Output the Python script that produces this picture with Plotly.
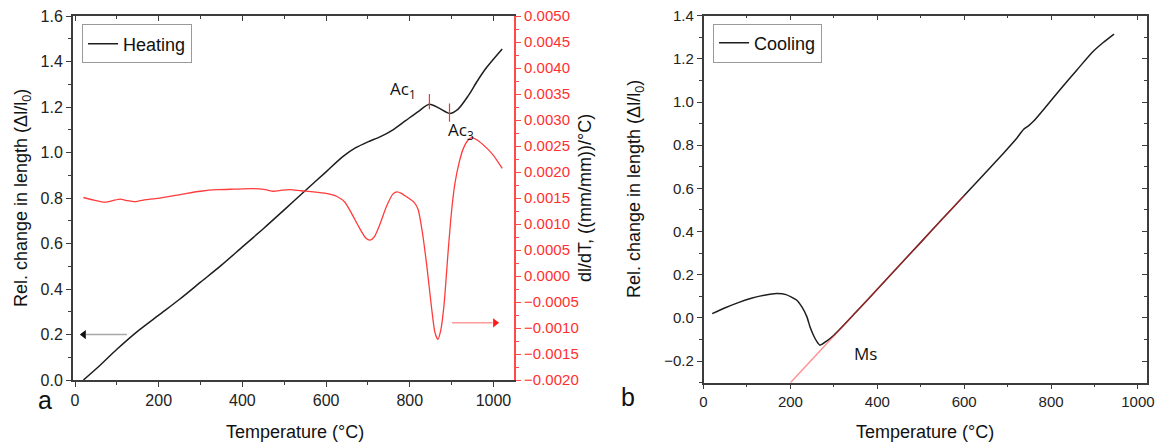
import plotly.graph_objects as go

# ---- data -------------------------------------------------------------
heat_T = [20, 60, 100, 150, 200, 250, 300, 350, 400, 450, 500, 550, 600, 640, 670,
          700, 730, 760, 790, 820, 847, 870, 895, 915, 940, 960, 980, 1000, 1021]
heat_dl = [0.0, 0.065, 0.135, 0.215, 0.285, 0.355, 0.43, 0.505, 0.585, 0.665, 0.748,
           0.832, 0.915, 0.982, 1.02, 1.047, 1.07, 1.10, 1.14, 1.18, 1.212, 1.195,
           1.172, 1.19, 1.25, 1.31, 1.365, 1.41, 1.455]

deriv_T = [20, 45, 72, 90, 108, 125, 143, 170, 203, 240, 267, 300, 339, 380, 426, 455,
           474, 495, 514, 540, 570, 600, 626, 645, 660, 680, 695, 705, 715, 728, 745,
           760, 770, 780, 795, 810, 820, 830, 841, 852, 860, 867, 874, 882, 892, 900,
           908, 918, 928, 940, 948, 960, 984, 1000, 1021]
deriv_val = [0.00151, 0.00146, 0.00142, 0.00145, 0.00148, 0.00145, 0.00143, 0.00147,
             0.00150, 0.00155, 0.00159, 0.00163, 0.00166, 0.00167, 0.00168, 0.00166,
             0.00163, 0.00165, 0.00166, 0.00164, 0.00162, 0.00159, 0.00153, 0.00142,
             0.00122, 0.00092, 0.00073, 0.00069, 0.00075, 0.00098, 0.00135, 0.00158,
             0.00162, 0.00159, 0.00151, 0.00142, 0.00128, 0.00085, 0.00018, -0.0006,
             -0.00108, -0.00122, -0.00105, -0.00055, 0.0005, 0.00125, 0.00178, 0.00218,
             0.00245, 0.00262, 0.00266, 0.00262, 0.00246, 0.00232, 0.00207]

cool_T = [20, 50, 80, 110, 140, 168, 190, 214, 226, 238, 245, 253, 261, 268, 284, 300,
          350, 400, 450, 500, 550, 600, 650, 690, 720, 736, 748, 760, 790, 820, 860,
          896, 920, 945]
cool_dl = [0.02, 0.047, 0.071, 0.091, 0.105, 0.113, 0.108, 0.083, 0.052, 0.005, -0.041,
           -0.08, -0.11, -0.126, -0.106, -0.08, 0.025, 0.133, 0.242, 0.35, 0.459, 0.567,
           0.675, 0.762, 0.83, 0.872, 0.89, 0.912, 0.983, 1.056, 1.15, 1.233, 1.276,
           1.315]

# linear fit of the austenite contraction used to locate Ms
fit_T = [200, 600]
fit_dl = [-0.3, 0.567]

# critical temperatures on heating
ac_T = [847, 895]
ac_dl = [1.212, 1.172]
ac_labels = ["Ac<sub>1</sub>", "Ac<sub>3</sub>"]

FONT = "Arial, 'Liberation Sans', sans-serif"
LABEL_FONT = "'Open Sans', 'Noto Sans', sans-serif"
AXC = "#3c3c3c"
RED = "#ff3b3b"

fig = go.Figure()

# ---- panel a ----------------------------------------------------------
fig.add_trace(go.Scatter(x=heat_T, y=heat_dl, mode="lines", name="Heating",
                         line=dict(color="#1e1e1e", width=1.5, shape="spline", smoothing=0.8),
                         xaxis="x", yaxis="y", legend="legend"))
fig.add_trace(go.Scatter(x=deriv_T, y=deriv_val, mode="lines", showlegend=False,
                         line=dict(color=RED, width=1.3, shape="spline", smoothing=0.6),
                         xaxis="x", yaxis="y2"))
# axis pointers
fig.add_trace(go.Scatter(x=[26, 124], y=[0.2, 0.2], mode="lines", showlegend=False,
                         line=dict(color="#a8a8a8", width=1.5), xaxis="x", yaxis="y"))
fig.add_trace(go.Scatter(x=[21], y=[0.2], mode="markers", showlegend=False,
                         marker=dict(symbol="triangle-left", size=8, color="#111"),
                         xaxis="x", yaxis="y"))
fig.add_trace(go.Scatter(x=[901, 998], y=[-0.0009, -0.0009], mode="lines", showlegend=False,
                         line=dict(color="#ff9a9a", width=1.5), xaxis="x", yaxis="y2"))
fig.add_trace(go.Scatter(x=[1004], y=[-0.0009], mode="markers", showlegend=False,
                         marker=dict(symbol="triangle-right", size=8, color="#ff1a1a"),
                         xaxis="x", yaxis="y2"))
# carrier for the top frame axis
fig.add_trace(go.Scatter(x=[None], y=[None], showlegend=False, xaxis="x3", yaxis="y"))

# ---- panel b ----------------------------------------------------------
fig.add_trace(go.Scatter(x=cool_T, y=cool_dl, mode="lines", name="Cooling",
                         line=dict(color="#1e1e1e", width=1.5, shape="spline", smoothing=0.6),
                         xaxis="x2", yaxis="y3", legend="legend2"))
fig.add_trace(go.Scatter(x=fit_T, y=fit_dl, mode="lines", showlegend=False,
                         line=dict(color="rgba(255,40,40,0.5)", width=1.5),
                         xaxis="x2", yaxis="y3"))
fig.add_trace(go.Scatter(x=[None], y=[None], showlegend=False, xaxis="x4", yaxis="y3"))
fig.add_trace(go.Scatter(x=[None], y=[None], showlegend=False, xaxis="x2", yaxis="y4"))

# ---- axes -------------------------------------------------------------
def base_axis(**kw):
    d = dict(showgrid=False, zeroline=False, showline=True, linecolor=AXC, linewidth=1.5,
             ticks="outside", ticklen=5, tickwidth=1.2, tickcolor=AXC, automargin=False,
             tickfont=dict(family=FONT, size=16, color="#222"))
    d.update(kw)
    return d

XL = [-5.5, 1050]
XR = [0, 1020]
left_dom = [0.0627, 0.4434]
right_dom = [0.6065, 0.9885]
ydom_l = [0.146, 0.964]
ydom_r = [0.140, 0.9647]

fig.update_layout(
    xaxis=base_axis(domain=left_dom, range=XL, dtick=200, tick0=0, anchor="y",
                    minor=dict(ticks="outside", ticklen=3, dtick=100, tickcolor=AXC)),
    yaxis=base_axis(domain=ydom_l, range=[0, 1.6], dtick=0.2, tick0=0, tickformat=".1f",
                    anchor="x", minor=dict(ticks="outside", ticklen=3, dtick=0.1, tickcolor=AXC)),
    yaxis2=base_axis(overlaying="y", side="right", anchor="x", range=[-0.002, 0.005],
                     dtick=0.0005, tick0=0, tickformat=".4f", linecolor="#ff4a4a",
                     tickcolor="#ff4a4a", tickfont=dict(family=FONT, size=15, color="#ff3030"),
                     minor=dict(ticks="outside", ticklen=3, dtick=0.00025, tickcolor="#ff4a4a")),
    xaxis3=base_axis(overlaying="x", side="top", anchor="y", range=XL, dtick=200, tick0=0,
                     ticks="inside", showticklabels=False,
                     minor=dict(ticks="inside", ticklen=3, dtick=100, tickcolor=AXC)),
    xaxis2=base_axis(domain=right_dom, range=XR, dtick=200, tick0=0, anchor="y3",
                     tickfont=dict(family=FONT, size=15, color="#222"),
                     minor=dict(ticks="outside", ticklen=3, dtick=100, tickcolor=AXC)),
    yaxis3=base_axis(domain=ydom_r, range=[-0.3, 1.4], dtick=0.2, tick0=0, tickformat=".1f",
                     anchor="x2", tickfont=dict(family=FONT, size=15, color="#222"),
                     minor=dict(ticks="outside", ticklen=3, dtick=0.1, tickcolor=AXC)),
    xaxis4=base_axis(overlaying="x2", side="top", anchor="y3", range=XR, dtick=200, tick0=0,
                     ticks="inside", showticklabels=False,
                     minor=dict(ticks="inside", ticklen=3, dtick=100, tickcolor=AXC)),
    yaxis4=base_axis(overlaying="y3", side="right", anchor="x2", range=[-0.3, 1.4], dtick=0.2,
                     tick0=0, ticks="inside", showticklabels=False,
                     minor=dict(ticks="inside", ticklen=3, dtick=0.1, tickcolor=AXC)),
)

# ---- legends ----------------------------------------------------------
leg = dict(bgcolor="white", bordercolor="#9a9a9a", borderwidth=1,
           font=dict(family=FONT, size=18, color="#111"),
           xanchor="left", yanchor="top", itemwidth=30, tracegroupgap=0)
fig.update_layout(
    legend=dict(x=0.0707, y=0.945, **leg),
    legend2=dict(x=0.6147, y=0.947, **leg),
)

# ---- critical point markers and labels ---------------------------------
shapes = []
for t, v, h in zip(ac_T, ac_dl, [(0.022, 0.045), (0.037, 0.044)]):
    shapes.append(dict(type="line", xref="x", yref="y", x0=t, x1=t, y0=v - h[0], y1=v + h[1],
                       line=dict(color="#ff3030", width=1.2)))
fig.update_layout(shapes=shapes)

ann = []
ann.append(dict(x=784, y=1.275, xref="x", yref="y", text=ac_labels[0], showarrow=False,
                font=dict(family=LABEL_FONT, size=17, color="#111")))
ann.append(dict(x=923, y=1.095, xref="x", yref="y", text=ac_labels[1], showarrow=False,
                font=dict(family=LABEL_FONT, size=17, color="#111")))
ann.append(dict(x=373, y=-0.163, xref="x2", yref="y3", text="Ms", showarrow=False,
                font=dict(family=LABEL_FONT, size=17, color="#111")))


def paper_text(px, py, text, size=18, angle=0):
    return dict(x=px / 1160, y=1 - py / 445, xref="paper", yref="paper", text=text,
                xanchor="center", yanchor="middle", textangle=angle, showarrow=False,
                font=dict(family=FONT, size=size, color="#111"))


ann += [
    paper_text(295, 432, "Temperature (°C)"),
    paper_text(925, 432, "Temperature (°C)"),
    paper_text(22, 198, "Rel. change in length (Δl/l<sub>0</sub>)", angle=-90),
    paper_text(635, 189, "Rel. change in length (Δl/l<sub>0</sub>)", angle=-90),
    paper_text(585, 198, "dl/dT, ((mm/mm))/°C)", angle=-90),
    paper_text(45, 400, "a", size=25),
    paper_text(628, 397, "b", size=25),
]
fig.update_layout(annotations=ann)

fig.update_layout(width=1160, height=445, margin=dict(l=0, r=0, t=0, b=0),
                  paper_bgcolor="white", plot_bgcolor="white")

fig.write_html("out.html")
